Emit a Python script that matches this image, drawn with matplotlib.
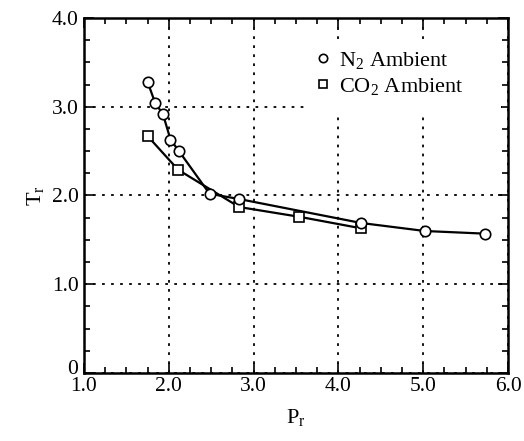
import numpy as np
import matplotlib
matplotlib.use("Agg")
import matplotlib.pyplot as plt
from matplotlib.ticker import MultipleLocator
from matplotlib.transforms import ScaledTranslation
from matplotlib.patches import Rectangle

# reduced pressure / reduced temperature, N2 ambient
p_n2 = [1.75, 1.84, 1.93, 2.02, 2.12, 2.48, 2.83, 4.27, 5.02, 5.73]
t_n2 = [3.28, 3.04, 2.92, 2.63, 2.50, 2.02, 1.96, 1.69, 1.60, 1.57]

# CO2 ambient
p_co2 = [1.75, 2.11, 2.83, 3.54, 4.27]
t_co2 = [2.67, 2.29, 1.87, 1.76, 1.63]

xticks = [1.0, 2.0, 3.0, 4.0, 5.0, 6.0]
xlabels = ['1.0', '2.0', '3.0', '4.0', '5.0', '6.0']
yticks = [0, 1.0, 2.0, 3.0, 4.0]
ylabels = ['0', '1.0', '2.0', '3.0', '4.0']

plt.rcParams['font.family'] = ['Liberation Serif', 'DejaVu Serif']
plt.rcParams['mathtext.fontset'] = 'custom'
plt.rcParams['mathtext.rm'] = 'Liberation Serif'
plt.rcParams['mathtext.it'] = 'Liberation Serif'

fig = plt.figure(figsize=(5.24, 4.41), dpi=100)
ax = fig.add_axes([84/524, 68/441, 424/524, 355/441])

ax.plot(p_n2, t_n2, color='black', lw=1.6, marker='o', ms=7.5,
        mfc='white', mec='black', mew=1.2, label='N$_2$ Ambient', zorder=4)
ax.plot(p_co2, t_co2, color='black', lw=1.6, marker='s', ms=7.5,
        mfc='white', mec='black', mew=1.2, label='CO$_2$ Ambient', zorder=3)

ax.set_xlim(1.0, 6.0)
ax.set_ylim(0, 4.0)
ax.set_xticks(xticks)
ax.set_xticklabels(xlabels)
ax.set_yticks(yticks)
ax.set_yticklabels(ylabels)
ax.xaxis.set_minor_locator(MultipleLocator(0.25))
ax.yaxis.set_minor_locator(MultipleLocator(0.25))
ax.tick_params(which='both', direction='in', top=True, right=True, width=1.2)
ax.tick_params(which='major', length=7, labelsize=15.5)
ax.tick_params(axis='y', which='major', pad=4)
ax.tick_params(axis='x', which='major', pad=3)
ax.tick_params(which='minor', length=4)
for s in ax.spines.values():
    s.set_linewidth(1.8)
    s.set_zorder(5)

# lift the "0" so it sits clear of the "1.0" below the corner
zero = ax.get_yticklabels()[0]
zero.set_transform(zero.get_transform() + ScaledTranslation(0, 4/72, fig.dpi_scale_trans))

ax.grid(True, which='major', color='black', lw=1.3, linestyle=(0, (1.5, 3.5)))
ax.set_axisbelow(True)

ax.set_xlabel('P$_\\mathrm{r}$', fontsize=16, labelpad=8)
ax.set_ylabel('T$_\\mathrm{r}$', fontsize=16, labelpad=4, rotation=90)

# white block behind the key, blanking the grid there (right ticks stay visible)
ax.add_patch(Rectangle((0.526, 0.735), 0.457, 0.19, transform=ax.transAxes,
                       facecolor='white', edgecolor='none', zorder=2))

leg = ax.legend(loc='center left', bbox_to_anchor=(0.551, 0.8437), fontsize=16,
                frameon=False, handlelength=0.5, handletextpad=0.45,
                borderpad=0, labelspacing=0.25, markerscale=0.8,
                borderaxespad=0)
leg.set_zorder(6)
for h in leg.legend_handles:
    h.set_linestyle('none')

fig.savefig('out.png', dpi=100)
